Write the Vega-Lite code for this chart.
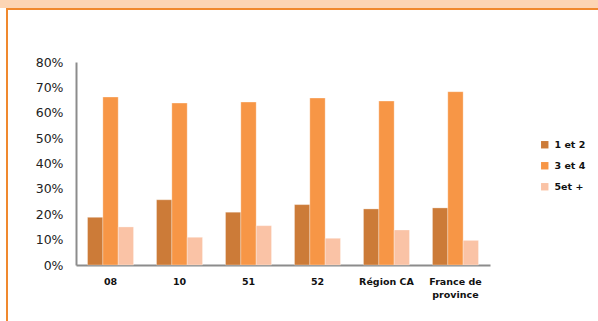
{
  "$schema": "https://vega.github.io/schema/vega-lite/v6.json",
  "padding": 0,
  "spacing": 0,
  "bounds": "flush",
  "background": "white",
  "config": {"view": {"stroke": null}, "concat": {"spacing": 0}},
  "datasets": {
    "bars": [
      {"zone": "08", "groupe": "1 et 2", "part": 0.188},
      {"zone": "08", "groupe": "3 et 4", "part": 0.662},
      {"zone": "08", "groupe": "5et +", "part": 0.150},
      {"zone": "10", "groupe": "1 et 2", "part": 0.257},
      {"zone": "10", "groupe": "3 et 4", "part": 0.638},
      {"zone": "10", "groupe": "5et +", "part": 0.109},
      {"zone": "51", "groupe": "1 et 2", "part": 0.208},
      {"zone": "51", "groupe": "3 et 4", "part": 0.642},
      {"zone": "51", "groupe": "5et +", "part": 0.155},
      {"zone": "52", "groupe": "1 et 2", "part": 0.238},
      {"zone": "52", "groupe": "3 et 4", "part": 0.658},
      {"zone": "52", "groupe": "5et +", "part": 0.105},
      {"zone": "Région CA", "groupe": "1 et 2", "part": 0.221},
      {"zone": "Région CA", "groupe": "3 et 4", "part": 0.646},
      {"zone": "Région CA", "groupe": "5et +", "part": 0.138},
      {"zone": "France de province", "groupe": "1 et 2", "part": 0.225},
      {"zone": "France de province", "groupe": "3 et 4", "part": 0.683},
      {"zone": "France de province", "groupe": "5et +", "part": 0.097}
    ],
    "band": [{"y0": 54, "y1": 62, "line": 53, "x0": 6, "x1": 598, "vx": 7, "vy0": 0, "vy1": 53}],
    "side": [{"x": 7}]
  },
  "vconcat": [
    {
      "width": 598,
      "height": 62,
      "data": {"name": "band"},
      "layer": [
        {
          "mark": {"type": "rect", "color": "#FCD5B4"},
          "encoding": {
            "y": {"field": "y0", "type": "quantitative", "scale": {"domain": [0, 62], "nice": false, "zero": false}, "axis": null},
            "y2": {"field": "y1"}
          }
        },
        {
          "mark": {"type": "rule", "color": "#F0892E", "strokeWidth": 2},
          "encoding": {
            "y": {"field": "line", "type": "quantitative", "scale": {"domain": [0, 62], "nice": false, "zero": false}, "axis": null},
            "x": {"field": "x0", "type": "quantitative", "scale": {"domain": [0, 598], "nice": false, "zero": false}, "axis": null},
            "x2": {"field": "x1"}
          }
        },
        {
          "mark": {"type": "rule", "color": "#F0892E", "strokeWidth": 2},
          "encoding": {
            "x": {"field": "vx", "type": "quantitative", "scale": {"domain": [0, 598], "nice": false, "zero": false}, "axis": null},
            "y": {"field": "vy0", "type": "quantitative", "scale": {"domain": [0, 62], "nice": false, "zero": false}, "axis": null},
            "y2": {"field": "vy1"}
          }
        }
      ]
    },
    {
      "hconcat": [
        {
          "width": 31,
          "height": 259,
          "data": {"name": "side"},
          "mark": {"type": "rule", "color": "#F0892E", "strokeWidth": 2},
          "encoding": {
            "x": {"field": "x", "type": "quantitative", "scale": {"domain": [0, 31], "nice": false, "zero": false}, "axis": null}
          }
        },
        {
          "width": 414,
          "height": 203,
          "data": {"name": "bars"},
          "mark": {"type": "bar", "stroke": "#FFFFFF", "strokeWidth": 0.6, "strokeOpacity": 0.5},
          "encoding": {
            "x": {
              "field": "zone",
              "type": "nominal",
              "sort": null,
              "scale": {"paddingInner": 0.333, "paddingOuter": 0.167},
              "axis": {
                "title": null,
                "labelAngle": 0,
                "ticks": false,
                "domainColor": "#8C8C8C",
                "domainWidth": 2,
                "labelFont": "DejaVu Sans",
                "labelFontWeight": "bold",
                "labelFontSize": 9.5,
                "labelColor": "#111111",
                "labelPadding": 11,
                "labelLineHeight": 13,
                "labelExpr": "datum.value == 'France de province' ? ['France de', 'province'] : datum.value"
              }
            },
            "xOffset": {"field": "groupe", "type": "nominal", "scale": {"paddingInner": 0, "paddingOuter": 0}},
            "y": {
              "field": "part",
              "type": "quantitative",
              "scale": {"domain": [0, 0.8], "nice": false},
              "axis": {
                "title": null,
                "format": ".0%",
                "values": [0, 0.1, 0.2, 0.3, 0.4, 0.5, 0.6, 0.7, 0.8],
                "grid": false,
                "ticks": false,
                "domainColor": "#8C8C8C",
                "domainWidth": 2,
                "labelFont": "DejaVu Sans",
                "labelFontSize": 12.5,
                "labelColor": "#222222",
                "labelPadding": 13,
                "minExtent": 45
              }
            },
            "color": {
              "field": "groupe",
              "type": "nominal",
              "scale": {"domain": ["1 et 2", "3 et 4", "5et +"], "range": ["#CC7B38", "#F79646", "#FAC3A6"]},
              "legend": {
                "title": null,
                "orient": "none",
                "legendX": 540,
                "legendY": 140,
                "symbolType": "square",
                "symbolSize": 55,
                "symbolStrokeWidth": 0,
                "labelFont": "DejaVu Sans",
                "labelFontWeight": "bold",
                "labelFontSize": 9.5,
                "labelColor": "#111111",
                "labelOffset": 5,
                "rowPadding": 10
              }
            }
          }
        }
      ]
    }
  ]
}
